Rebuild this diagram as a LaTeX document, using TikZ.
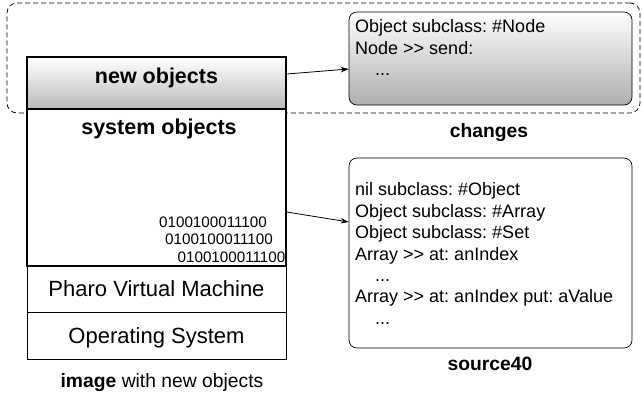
\documentclass[tikz,border=0pt]{standalone}
\usepackage{fontspec}
\setmainfont{Liberation Sans}
\usetikzlibrary{arrows.meta}
\frenchspacing
\begin{document}
\begin{tikzpicture}[x=1pt,y=-1pt,
  box/.style={draw=black,rectangle,inner sep=0pt,line width=#1},
  box/.default=0.8pt,
  txt/.style={inner sep=0pt,anchor=base west,font=\fontsize{18}{20}\selectfont},
  head/.style={inner sep=0pt,anchor=base,font=\fontsize{21.5}{24}\selectfont\bfseries},
  lbl/.style={inner sep=0pt,anchor=base,font=\fontsize{19.3}{22}\selectfont},
  bin/.style={inner sep=0pt,anchor=base east,font=\fontsize{15.2}{16}\selectfont},
  arr/.style={line width=0.8pt,-{Stealth[length=8pt,width=5.5pt]}}]
\useasboundingbox (0,0) rectangle (642,392);
% dashed frame
\node[draw=black,dash pattern=on 5pt off 3pt,line width=0.7pt,rounded corners=10pt,minimum width=633pt,minimum height=110pt,inner sep=0pt] (frame) at (323.5,58) {};
% left stack
\node[box=0.6pt,minimum width=259pt,minimum height=47pt] (os) at (156.5,335.5) {};
\node[box=0.6pt,minimum width=259pt,minimum height=46pt] (vm) at (156.5,289) {};
\node[box=1.6pt,fill=white,minimum width=259pt,minimum height=157pt] (sys) at (156.5,187.5) {};
\node[box=1.6pt,minimum width=259pt,minimum height=52pt,top color=white,bottom color=black!27] (newobj) at (156.5,83) {};
\node[head] (tnew) at (156.5,83) {new objects};
\node[head] (tsys) at (159,134) {system objects};
\node[bin] (b1) at (267,227) {0100100011100};
\node[bin] (b2) at (273,244) {0100100011100};
\node[bin] (b3) at (285.5,262) {0100100011100};
\node[lbl,font=\fontsize{22}{24}\selectfont] (tvm) at (156.5,296) {Pharo Virtual Machine};
\node[lbl,font=\fontsize{22}{24}\selectfont] (tos) at (156.5,343) {Operating System};
\node[lbl] (timg) at (162,387) {\textbf{image} with new objects};
% changes box
\node[box=0.7pt,rounded corners=8pt,minimum width=283pt,minimum height=93pt,top color=white,bottom color=black!32] (chg) at (490.5,58.5) {};
\node[txt] (c1) at (355,32) {Object subclass: \#Node};
\node[txt] (c2) at (355,54) {Node >{}> send:};
\node[txt] (c3) at (375,75) {...};
\node[lbl,font=\fontsize{19.3}{22}\selectfont\bfseries] (tchg) at (489,137) {changes};
% source box
\node[box=0.7pt,rounded corners=8pt,minimum width=283pt,minimum height=190pt] (src) at (490.5,253) {};
\node[txt] (s1) at (355,195) {nil subclass: \#Object};
\node[txt] (s2) at (355,217) {Object subclass: \#Array};
\node[txt] (s3) at (355,238) {Object subclass: \#Set};
\node[txt] (s4) at (355,260) {Array >{}> at: anIndex};
\node[txt] (s5) at (375,281) {...};
\node[txt] (s6) at (355,302) {Array >{}> at: anIndex put: aValue};
\node[txt] (s7) at (375,324) {...};
\node[lbl,font=\fontsize{19.3}{22}\selectfont\bfseries] (tsrc) at (490,370) {source40};
% arrows
\draw[arr] ([yshift=9pt]newobj.east) -- ([yshift=-10.5pt]chg.west);
\draw[arr] ([yshift=-24.5pt]sys.east) -- ([yshift=31pt]src.west);
\end{tikzpicture}
\end{document}
